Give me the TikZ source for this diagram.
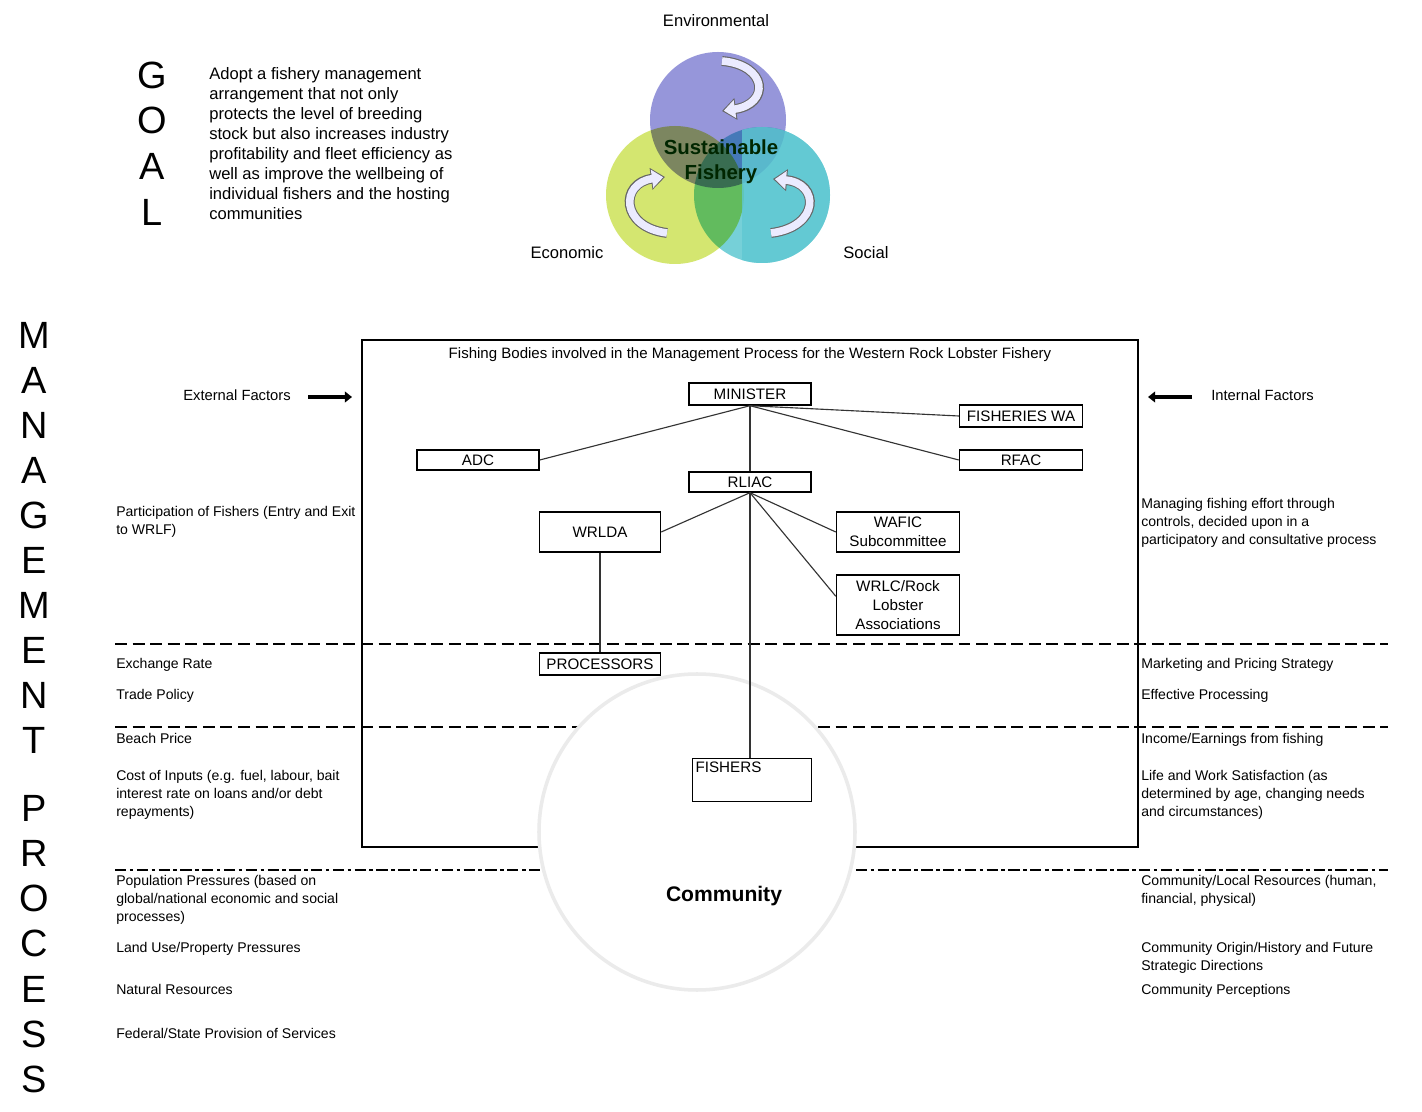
\documentclass[tikz,border=0pt]{standalone}
\usepackage{fontspec}
\setmainfont{Liberation Sans}
\usetikzlibrary{arrows.meta}

\definecolor{envcol}{RGB}{150,150,218}
\definecolor{ecocol}{RGB}{205,226,88}
\definecolor{soccol}{RGB}{95,200,210}

\begin{document}
\begin{tikzpicture}%
	[x=0.25mm, y=-0.25mm,
	bodybox/.style={draw=black, line width=1pt, inner sep=1pt, align=center,
		font=\fontsize{10.8}{13.5}\selectfont, minimum width=30.5mm, minimum height=5.5mm},
	factor/.style={anchor=north west, inner sep=0pt, align=left, font=\fontsize{10}{12.8}\selectfont},
	bigletter/.style={inner sep=0pt, font=\fontsize{27}{27}\selectfont},
	pillar/.style={inner sep=0pt, font=\fontsize{11.8}{14}\selectfont},
	link/.style={line width=0.8pt, color=black!80},
	sepline/.style={line width=1.7pt, dash pattern=on 8.5pt off 4pt},
	sepdot/.style={line width=1.7pt, dash pattern=on 8pt off 2.5pt on 2.5pt off 2.5pt},
	factorarrow/.style={line width=2.6pt, -{Triangle[length=5pt,width=7.5pt]}},
	cycleedge/.style={line width=7pt, color=black!60, -{Triangle[length=10pt,width=15pt]}},
	cyclefill/.style={line width=5.4pt, color=blue!8, shorten >=1.3pt, -{Triangle[length=8pt,width=12.5pt]}}]

	\fill[white] (0,0) rectangle (1422,1112);
	\useasboundingbox (0,0) rectangle (1422,1112);

	% goal
	\foreach \letter [count=\i from 0] in {G,O,A,L}
		\node[bigletter] (goal\i) at (152,75+45.7*\i) {\letter};
	\node[anchor=north west, inner sep=0pt, align=left, font=\fontsize{11.8}{14.2}\selectfont] (goaltext) at (209,67)
		{Adopt a fishery management\\arrangement that not only\\protects the level of breeding\\stock but also increases industry\\profitability and fleet efficiency as\\well as improve the wellbeing of\\individual fishers and the hosting\\communities};

	% three pillars
	\begin{scope}[blend group=multiply]
		\fill[envcol] (718,120) circle (68);
		\fill[ecocol, fill opacity=0.85] (675,195) circle (69);
		\fill[soccol, fill opacity=0.85] (762,195) circle (68);
	\end{scope}
	\begin{scope}
		\clip (742,40) rectangle (840,270);
		\fill[soccol, fill opacity=0.8] (762,195) circle (68);
	\end{scope}
	\draw[cycleedge] (722,61) .. controls (768,65) and (770,104) .. (722,111);
	\draw[cyclefill] (722,61) .. controls (768,65) and (770,104) .. (722,111);
	\draw[cycleedge] (667,233) .. controls (620,227) and (620,183) .. (665,177);
	\draw[cyclefill] (667,233) .. controls (620,227) and (620,183) .. (665,177);
	\draw[cycleedge] (771,233) .. controls (820,227) and (820,183) .. (773,179);
	\draw[cyclefill] (771,233) .. controls (820,227) and (820,183) .. (773,179);
	\node[inner sep=0pt, align=center, text=black!85!green, font=\fontsize{14.5}{18}\selectfont\bfseries] (sustain) at (721,162)
		{Sustainable\\Fishery};
	\node[pillar] (env) at (716,21) {Environmental};
	\node[pillar] (eco) at (567,253) {Economic};
	\node[pillar] (soc) at (866,253) {Social};

	% management process
	\foreach \letter [count=\i from 0] in {M,A,N,A,G,E,M,E,N,T}
		\node[bigletter] (mgmt\i) at (34,335+45*\i) {\letter};
	\foreach \letter [count=\i from 0] in {P,R,O,C,E,S,S}
		\node[bigletter] (proc\i) at (34,808+45.3*\i) {\letter};

	\draw[line width=1pt] (362,340) rectangle (1138,847);
	\draw[sepline] (115,644) -- (1388,644);
	\draw[sepline] (115,727) -- (1388,727);
	\draw[sepdot] (115,870) -- (1388,870);

	\node[circle, minimum size=79mm, draw=black!8, line width=2.5pt, fill=white] (community) at (697,832) {};
	\node[inner sep=0pt, font=\fontsize{15}{18}\selectfont\bfseries] (commlabel) at (724,896) {Community};

	\node[inner sep=0pt, font=\fontsize{10.7}{12}\selectfont] (title) at (750,355)
		{Fishing Bodies involved in the Management Process for the Western Rock Lobster Fishery};

	% bodies
	\node[bodybox] (minister) at (750,394) {MINISTER};
	\node[bodybox, minimum width=30.75mm] (fisheries) at (1021,416) {FISHERIES WA};
	\node[bodybox, minimum height=5mm] (adc) at (478,460) {ADC};
	\node[bodybox, minimum width=30.75mm, minimum height=5mm] (rfac) at (1021,460) {RFAC};
	\node[bodybox, minimum height=5mm] (rliac) at (750,482) {RLIAC};
	\node[bodybox, minimum width=30.25mm, minimum height=10mm] (wrlda) at (600,532) {WRLDA};
	\node[bodybox, minimum width=30.75mm, minimum height=10mm] (wafic) at (898,532) {WAFIC\\Subcommittee};
	\node[bodybox, minimum width=30.75mm, minimum height=15mm] (wrlc) at (898,605) {WRLC/Rock\\Lobster\\Associations};
	\node[bodybox, minimum width=30.25mm] (processors) at (600,664) {PROCESSORS};
	\node[bodybox, minimum width=29.75mm, minimum height=10.75mm,
		label={[anchor=north west, inner sep=2.5pt, font=\fontsize{10.8}{13}\selectfont]north west:FISHERS}] (fishers) at (752,780) {};

	\draw[link] (minister.south) -- (adc.east);
	\draw[link] (minister.south) -- (fisheries.west);
	\draw[link] (minister.south) -- (rfac.west);
	\draw[link] (minister.south) -- (rliac.north);
	\draw[link] (rliac.south) -- (wrlda.east);
	\draw[link] (rliac.south) -- (wafic.west);
	\draw[link] (rliac.south) -- (wrlc.172);
	\draw[link] (rliac.south) -- (rliac.south |- fishers.north);
	\draw[link] (wrlda.south) -- (processors.north);

	% external factors
	\node[factor, font=\fontsize{10.5}{12.8}\selectfont] (extlabel) at (183,390) {External Factors};
	\coordinate (extfrom) at (308,397);
	\coordinate (extto) at (352,397);
	\draw[factorarrow] (extfrom) -- (extto);
	\node[factor] (entry) at (116,506) {Participation of Fishers (Entry and Exit\\to WRLF)};
	\node[factor] (exchange) at (116,658) {Exchange Rate};
	\node[factor] (trade) at (116,689) {Trade Policy};
	\node[factor] (beach) at (116,733) {Beach Price};
	\node[factor] (inputs) at (116,770) {Cost of Inputs (e.g. fuel, labour, bait\\interest rate on loans and/or debt\\repayments)};
	\node[factor] (population) at (116,875) {Population Pressures (based on\\global/national economic and social\\processes)};
	\node[factor] (landuse) at (116,942) {Land Use/Property Pressures};
	\node[factor] (natural) at (116,984) {Natural Resources};
	\node[factor] (services) at (116,1028) {Federal/State Provision of Services};

	% internal factors
	\node[factor, font=\fontsize{10.5}{12.8}\selectfont] (intlabel) at (1211,390) {Internal Factors};
	\coordinate (intfrom) at (1192,397);
	\coordinate (intto) at (1148,397);
	\draw[factorarrow] (intfrom) -- (intto);
	\node[factor] (effort) at (1141,498) {Managing fishing effort through\\controls, decided upon in a\\participatory and consultative process};
	\node[factor] (marketing) at (1141,658) {Marketing and Pricing Strategy};
	\node[factor] (processing) at (1141,689) {Effective Processing};
	\node[factor] (income) at (1141,733) {Income/Earnings from fishing};
	\node[factor] (satisfaction) at (1141,770) {Life and Work Satisfaction (as\\determined by age, changing needs\\and circumstances)};
	\node[factor] (localres) at (1141,875) {Community/Local Resources (human,\\financial, physical)};
	\node[factor] (origin) at (1141,942) {Community Origin/History and Future\\Strategic Directions};
	\node[factor] (perceptions) at (1141,984) {Community Perceptions};
\end{tikzpicture}
\end{document}
